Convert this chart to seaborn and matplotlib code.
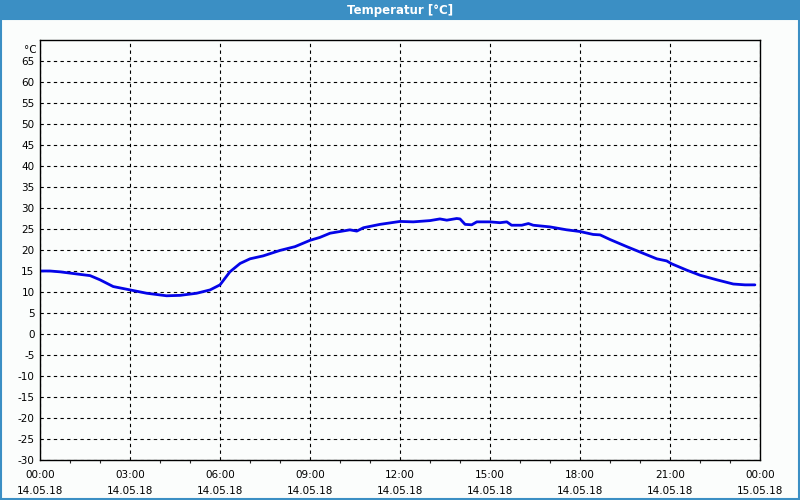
import matplotlib
matplotlib.use("Agg")
import matplotlib.pyplot as plt
from matplotlib.patches import Rectangle
from matplotlib.ticker import MultipleLocator
import seaborn as sns
import pandas as pd

# ---- data ----
hours = [0.0, 0.33, 0.67, 1.0, 1.33, 1.67, 2.0, 2.44, 3.0, 3.56, 4.0, 4.22, 4.67,
         5.22, 5.67, 6.0, 6.33, 6.67, 7.0, 7.44, 8.0, 8.5, 9.0, 9.33, 9.67, 10.33,
         10.56, 10.78, 11.33, 12.0, 12.44, 13.0, 13.33, 13.56, 13.89, 14.0, 14.17,
         14.39, 14.56, 15.0, 15.33, 15.56, 15.72, 16.06, 16.28, 16.44, 17.0, 17.56,
         18.0, 18.44, 18.67, 19.0, 19.56, 20.11, 20.56, 20.89, 21.06, 21.56, 22.0,
         22.56, 23.11, 23.5, 23.83]
temps = [15.0, 15.0, 14.8, 14.5, 14.2, 13.9, 12.9, 11.3, 10.5, 9.7, 9.3, 9.1, 9.2,
         9.7, 10.5, 11.7, 14.8, 16.8, 17.9, 18.6, 19.9, 20.8, 22.3, 23.0, 24.0, 24.8,
         24.5, 25.3, 26.1, 26.8, 26.7, 27.0, 27.4, 27.1, 27.5, 27.4, 26.1,
         26.0, 26.7, 26.7, 26.5, 26.7, 25.9, 25.9, 26.3, 25.9, 25.5, 24.8,
         24.4, 23.7, 23.6, 22.5, 20.8, 19.2, 17.9, 17.4, 16.7, 15.2, 14.0,
         12.9, 11.9, 11.7, 11.7]
tick_hours = [0, 3, 6, 9, 12, 15, 18, 21, 24]
time_labels = ["00:00", "03:00", "06:00", "09:00", "12:00", "15:00", "18:00", "21:00", "00:00"]
date_labels = ["14.05.18"] * 8 + ["15.05.18"]
y_ticks = list(range(-30, 70, 5))
title = "Temperatur [°C]"
unit = "°C"

df = pd.DataFrame({"h": hours, "t": temps})

sns.set_style("white")
plt.rcParams["font.family"] = ["DejaVu Sans"]

bg = "#fbfdfc"
fig = plt.figure(figsize=(8, 5), dpi=100, facecolor=bg)
ax = fig.add_axes([0.05, 0.08, 0.90, 0.84])
ax.set_facecolor(bg)

sns.lineplot(data=df, x="h", y="t", ax=ax, color="#0404e8", linewidth=2.0)

ax.set_xlim(0, 24)
ax.set_ylim(-30, 70)
ax.set_xticks(tick_hours)
ax.set_xticklabels([f"{a}\n{b}" for a, b in zip(time_labels, date_labels)],
                   fontsize=7.5, linespacing=1.75)
ax.xaxis.set_minor_locator(MultipleLocator(1))
ax.set_yticks(y_ticks)
ax.set_yticklabels([str(v) for v in y_ticks], fontsize=7.5)
ax.tick_params(axis="x", which="major", length=3, width=0.8, direction="out", pad=4, colors="black")
ax.tick_params(axis="x", which="minor", length=2, width=0.8, direction="out", bottom=True)
ax.tick_params(axis="y", length=0, pad=4, colors="black")
ax.set_xlabel("")
ax.set_ylabel("")

ax.grid(True, which="major", color="black", linestyle=(0, (3, 3)), linewidth=0.8)
for s in ax.spines.values():
    s.set_visible(True)
    s.set_color("black")
    s.set_linewidth(1.0)

ax.text(-0.005, 68.8, unit, transform=ax.get_yaxis_transform(), ha="right", va="top",
        fontsize=7.5, color="black")

# title bar
fig.patches.append(Rectangle((0, 0.96), 1, 0.04, transform=fig.transFigure,
                             facecolor="#3b8fc4", edgecolor="none", zorder=0))
fig.text(0.5, 0.979, title, ha="center", va="center", color="white",
         fontsize=8.5, fontweight="bold")
# window border
fig.patches.append(Rectangle((0.001, 0.002), 0.998, 0.96, transform=fig.transFigure,
                             facecolor="none", edgecolor="#3b8fc4", linewidth=1.5, zorder=0))

fig.savefig("out.png", dpi=100, facecolor=bg)
